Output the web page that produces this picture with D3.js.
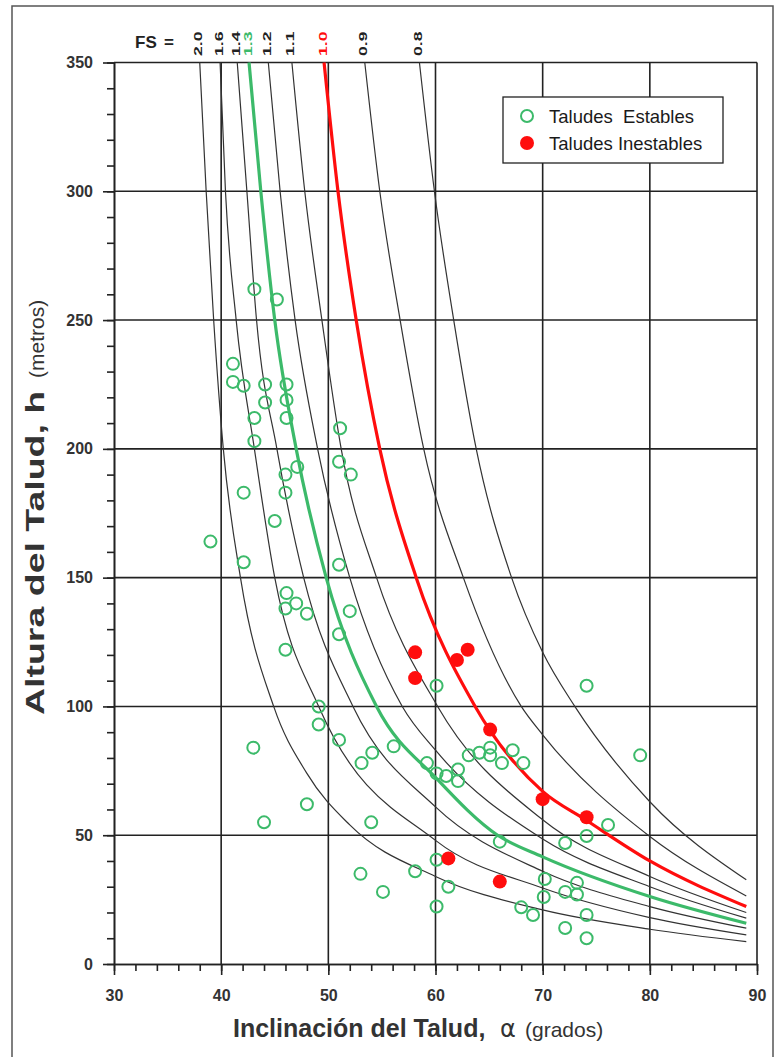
<!DOCTYPE html>
<html lang="es">
<head>
  <meta charset="UTF-8">
  <title>Altura vs inclinación del talud</title>
  <script src="https://d3js.org/d3.v7.min.js"></script>
  <style>
    body { margin: 0; background: #fff; }
    text { font-family: Arial, "Liberation Sans", sans-serif; }
    .grid line { stroke: #222; stroke-width: 1.6px; }
    .axis path, .axis line { stroke: #222; stroke-width: 1.6px; }
    .axis text { font-size: 16px; font-weight: bold; fill: #333; }
  </style>
</head>
<body>
<div id="chart"></div>
<script>

  // curvas de factor de seguridad, puntos leidos: [inclinacion (grados), altura (m)]
  var fsNames = ["2.0", "1.6", "1.4", "1.3", "1.2", "1.1", "1.0", "0.9", "0.8"];
  var fs20 = [[38.0,350],[38.6,300],[39.3,250],[40.2,200],[41.8,150],[44.9,100],[48,74],[52,54],[60,34],[70,21],[80,13.5],[89,8.7]];
  var fs16 = [[39.9,350],[40.4,300],[41.4,250],[43.1,200],[45.0,150],[49.1,100],[60,48],[70,29.5],[80,18],[89,11.3]];
  var fs14 = [[41.5,350],[42.4,300],[43.3,250],[45.2,200],[47.7,150],[52.3,100],[60,61],[70,36],[80,22.3],[89,13.9]];
  var fs13 = [[42.6,350],[43.7,300],[45.0,250],[47.0,200],[49.8,150],[54.5,100],[60.2,71.6],[65.8,50],[70,41.6],[80,26.2],[89,15.8]];
  var fs12 = [[44.4,350],[45.5,300],[46.9,250],[49.0,200],[52.0,150],[56.9,100],[60,83],[70,48.5],[80,30],[89,17.8]];
  var fs11 = [[46.6,350],[47.8,300],[49.4,250],[51.2,200],[54.5,150],[60.2,100],[70,56],[80,34],[89,20.0]];
  var fs10 = [[49.6,350],[50.9,300],[52.6,250],[54.8,200],[58.2,150],[63.7,100],[70,67],[74,56],[80,40],[89,22.3]];
  var fs09 = [[53.4,350],[54.8,300],[56.7,250],[58.9,200],[62.6,150],[68.0,100],[70,89],[80,49.5],[89,26.4]];
  var fs08 = [[58.5,350],[59.9,300],[61.7,250],[63.8,200],[67.1,150],[70,121],[73,100],[80,63],[89,32.7]];

  // taludes observados [inclinacion, altura]
  var stable = [[39.0,164],[41.1,233],[41.1,226],[42.1,224.5],[43.1,262],[45.2,258],[44.1,225],[46.1,225],
    [44.1,218],[46.1,219],[43.1,212],[46.1,212],[43.1,203],[51.1,208],[51.0,195],[52.1,190],[47.1,193],
    [46.0,190],[46.0,183],[42.1,183],[42.1,156],[45.0,172],[46.1,144],[47.0,140],[46.0,138],[48.0,136],
    [46.0,122],[51.0,155],[52.0,137],[51.0,128],[49.1,100],[49.1,93],[51.0,87],[43.0,84],[53.1,78],
    [54.1,82],[56.1,84.5],[59.2,78],[60.1,74],[61.0,73],[62.1,75.5],[62.1,71],[63.1,81],[64.1,82],
    [65.1,84],[65.1,81],[66.2,78],[67.2,83],[68.2,78],[60.1,108],[74.1,108],[79.1,81],[48.0,62],
    [44.0,55],[54.0,55],[53.0,35],[55.1,28],[58.1,36],[60.1,40.5],[61.2,30],[60.1,22.3],[66.0,47.5],
    [72.1,47],[74.1,49.7],[76.1,54],[70.2,33],[70.1,26],[68.0,22],[69.1,19],[72.1,28],[73.2,31.5],
    [73.2,27],[74.1,19],[72.1,14],[74.1,10]];
  var unstable = [[58.1,121],[58.1,111],[62.0,118],[63.0,122],[65.1,91],[70.0,64],[74.1,57],[61.2,41],[66.0,32]];

  var xMajor = [30, 40, 50, 60, 70, 80, 90];
  var yMajor = [0, 50, 100, 150, 200, 250, 300, 350];

  var w = 783;
  var h = 1057;
  var green = "#3cba6a";
  var red = "#ff0d0d";

  var svg = d3.select("#chart").append("svg")
      .attr("width", w)
      .attr("height", h);

  // marco exterior
  svg.append("rect")
    .attr("x", 12).attr("y", 6)
    .attr("width", 761).attr("height", 1052)
    .attr("fill", "none")
    .attr("stroke", "#555")
    .attr("stroke-width", 1.5);

  var x = d3.scaleLinear().domain([30, 90]).range([114, 757]);
  var y = d3.scaleLinear().domain([0, 350]).range([964, 62.5]);

  // rejilla
  svg.append("g")
    .attr("class", "grid")
    .selectAll("line")
    .data(xMajor.slice(1))
    .enter().append("line")
    .attr("x1", function(d) { return x(d); })
    .attr("x2", function(d) { return x(d); })
    .attr("y1", y(0))
    .attr("y2", y(350));

  svg.append("g")
    .attr("class", "grid")
    .selectAll("line")
    .data(yMajor.slice(1))
    .enter().append("line")
    .attr("x1", x(30))
    .attr("x2", x(90))
    .attr("y1", function(d) { return y(d); })
    .attr("y2", function(d) { return y(d); });

  // ejes
  svg.append("g")
    .attr("class", "axis")
    .attr("transform", "translate(0," + y(0) + ")")
    .call(d3.axisBottom(x).tickValues(d3.range(30, 91, 2)).tickSize(7).tickFormat("").tickSizeOuter(0));

  svg.append("g")
    .attr("class", "axis")
    .attr("transform", "translate(0," + y(0) + ")")
    .call(d3.axisBottom(x).tickValues(xMajor).tickSize(11).tickPadding(15).tickSizeOuter(0));

  svg.append("g")
    .attr("class", "axis")
    .attr("transform", "translate(" + x(30) + ",0)")
    .call(d3.axisLeft(y).tickValues(d3.range(0, 351, 10)).tickSize(7).tickFormat("").tickSizeOuter(0));

  svg.append("g")
    .attr("class", "axis")
    .attr("transform", "translate(" + x(30) + ",0)")
    .call(d3.axisLeft(y).tickValues(yMajor).tickSize(11).tickPadding(10).tickSizeOuter(0));

  // curvas FS
  var line = d3.line()
      .x(function(d) { return x(d[0]); })
      .y(function(d) { return y(d[1]); })
      .curve(d3.curveMonotoneX);

  var curves = [fs20, fs16, fs14, fs13, fs12, fs11, fs10, fs09, fs08];
  var curveColor = function(name) {
    if (name == "1.3") return green;
    if (name == "1.0") return red;
    return "#333";
  };

  curves.forEach(function(c, i) {
    var name = fsNames[i];
    var thick = (name == "1.3" || name == "1.0");
    svg.append("path")
      .attr("d", line(c))
      .style("fill", "none")
      .style("stroke", curveColor(name))
      .style("stroke-width", thick ? 3.2 : 1.2);

    // etiquetas giradas (alargadas como en el original)
    svg.append("text")
      .attr("transform", "translate(" + (x(c[0][0]) + 2.5) + ",56) rotate(-90) scale(1.6,1)")
      .attr("font-size", 11)
      .attr("font-weight", "bold")
      .attr("fill", thick ? curveColor(name) : "#222")
      .text(name);
  });

  svg.append("text")
    .attr("x", 135).attr("y", 48)
    .attr("font-size", 17)
    .attr("font-weight", "bold")
    .attr("fill", "#222")
    .text("FS");
  svg.append("text")
    .attr("x", 164).attr("y", 48)
    .attr("font-size", 17)
    .attr("font-weight", "bold")
    .attr("fill", "#222")
    .text("=");

  // puntos
  svg.append("g").selectAll("circle")
    .data(stable)
    .enter().append("circle")
    .attr("cx", function(d) { return x(d[0]); })
    .attr("cy", function(d) { return y(d[1]); })
    .attr("r", 6)
    .attr("fill", "none")
    .attr("stroke", green)
    .attr("stroke-width", 2);

  svg.append("g").selectAll("circle")
    .data(unstable)
    .enter().append("circle")
    .attr("cx", function(d) { return x(d[0]); })
    .attr("cy", function(d) { return y(d[1]); })
    .attr("r", 7)
    .attr("fill", red);

  // leyenda
  var legend = svg.append("g");
  legend.append("rect")
    .attr("x", 503).attr("y", 97)
    .attr("width", 220).attr("height", 66)
    .attr("fill", "#fff")
    .attr("stroke", "#222")
    .attr("stroke-width", 1.3);
  legend.append("circle")
    .attr("cx", 527).attr("cy", 116).attr("r", 6)
    .attr("fill", "none").attr("stroke", green).attr("stroke-width", 2);
  legend.append("circle")
    .attr("cx", 527).attr("cy", 143).attr("r", 7)
    .attr("fill", red);
  legend.append("text")
    .attr("x", 549).attr("y", 123)
    .attr("font-size", 18.5).attr("fill", "#1a1a1a")
    .attr("xml:space", "preserve")
    .text("Taludes  Estables");
  legend.append("text")
    .attr("x", 549).attr("y", 150)
    .attr("font-size", 18.5).attr("fill", "#1a1a1a")
    .text("Taludes Inestables");

  // titulos de ejes
  var xt = svg.append("text")
    .attr("y", 1037)
    .attr("fill", "#333");
  xt.append("tspan").attr("x", 233).attr("font-size", 25).attr("font-weight", "bold").text("Inclinación del Talud,");
  xt.append("tspan").attr("x", 500).attr("font-size", 24).attr("font-family", "DejaVu Sans").text("α");
  xt.append("tspan").attr("x", 525).attr("font-size", 21).text("(grados)");

  svg.append("text")
    .attr("transform", "translate(44,715) rotate(-90) scale(1.5,1)")
    .attr("fill", "#333")
    .attr("font-size", 25)
    .attr("font-weight", "bold")
    .text("Altura del Talud, h");

  svg.append("text")
    .attr("transform", "translate(44,378) rotate(-90)")
    .attr("fill", "#333")
    .attr("font-size", 21)
    .text("(metros)");

</script>
</body>
</html>
